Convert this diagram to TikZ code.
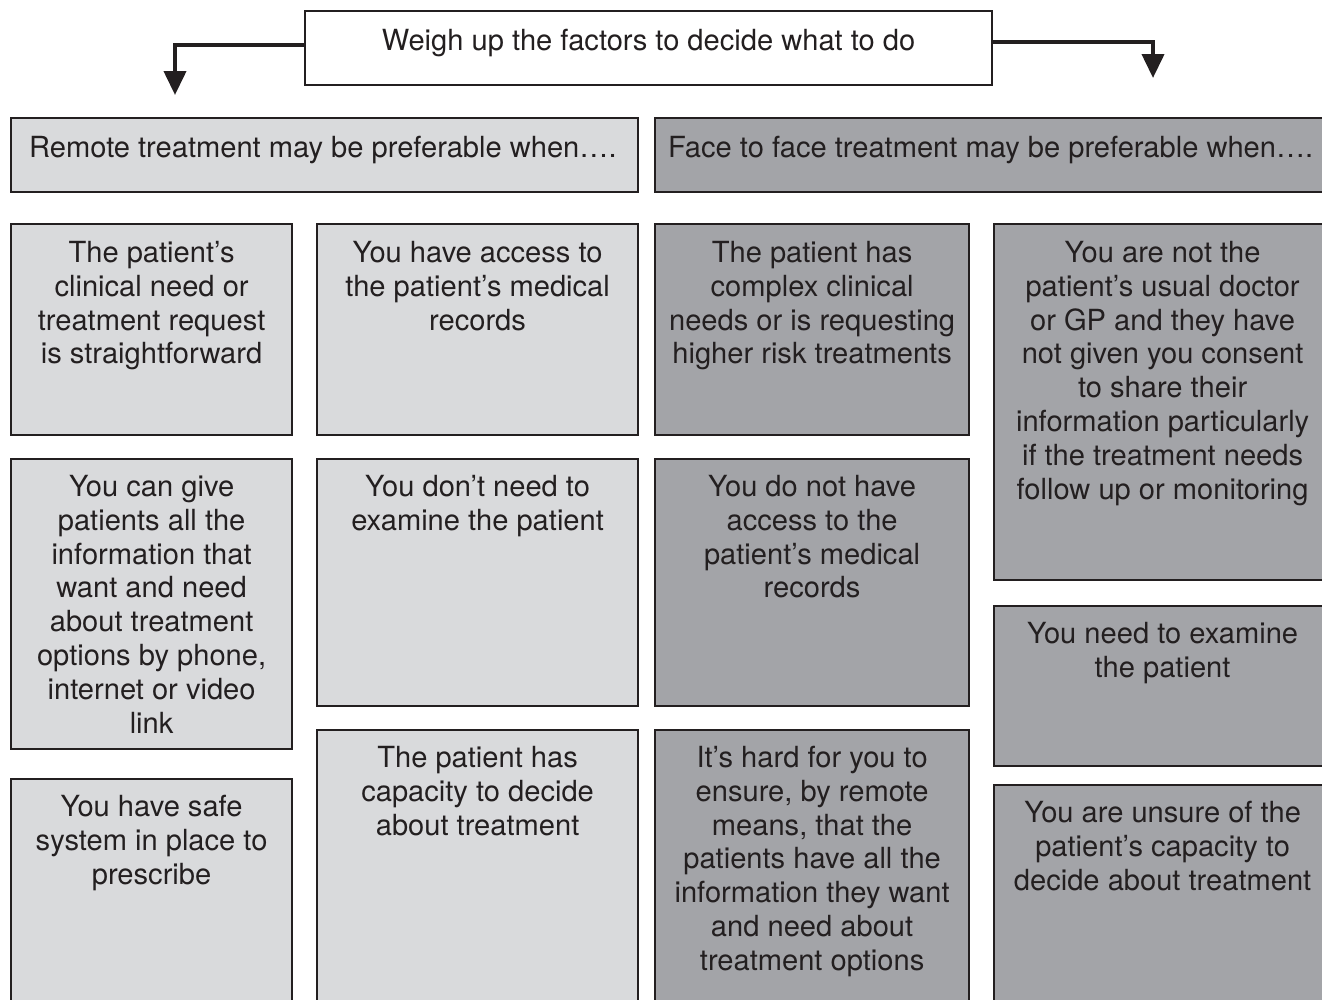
\documentclass[tikz,border=0pt]{standalone}
\usepackage{fontspec}
\setmainfont{TeX Gyre Heros}
\usetikzlibrary{arrows.meta}
\definecolor{lightbox}{HTML}{D9DADC}
\definecolor{darkbox}{HTML}{A3A4A8}
\definecolor{ink}{HTML}{231F20}
\begin{document}
\begin{tikzpicture}[x=1pt,y=-1pt,
  box/.style={draw=ink, line width=2.2pt, anchor=north west, inner sep=0pt, rectangle},
  lbox/.style={box, fill=lightbox},
  dbox/.style={box, fill=darkbox},
  txt/.style={font=\fontsize{29.1}{33.8}\selectfont, text=ink, align=center, inner sep=0pt, anchor=north, execute at begin node=\strut},
  arr/.style={draw=ink, line width=4pt, -{Triangle[width=22pt,length=24pt]}}]
\useasboundingbox (0,0) rectangle (1322,999);
\clip (0,0) rectangle (1322,999);

% top box
\node[box, fill=white, minimum width=687, minimum height=74] (top) at (304,10) {};
\node[txt] (toptxt) at ([yshift=-17]top.north) {Weigh up the factors to decide what to do};
\coordinate (lt) at (175,95);
\coordinate (rt) at (1153,78);
\draw[arr] ([yshift=3]top.west) -| (lt);
\draw[arr] ([yshift=6]top.east) -| (rt);

% headers
\node[lbox, minimum width=627, minimum height=74] (hl) at (10,117) {};
\node[txt, anchor=north west, align=left] (hlt) at ([xshift=19,yshift=-17]hl.north west) {Remote treatment may be preferable when….};
\node[dbox, minimum width=690, minimum height=74] (hr) at (654,117) {};
\node[txt, anchor=north west, align=left] (hrt) at ([xshift=14,yshift=-17]hr.north west) {Face to face treatment may be preferable when….};

% column 1
\node[lbox, minimum width=281, minimum height=211] (a1) at (10,223) {};
\node[txt] (a1t) at ([yshift=-18]a1.north) {The patient’s\\clinical need or\\treatment request\\is straightforward};
\node[lbox, minimum width=281, minimum height=290] (a2) at (10,458) {};
\node[txt] (a2t) at ([yshift=-17]a2.north) {You can give\\patients all the\\information that\\want and need\\about treatment\\options by phone,\\internet or video\\link};
\node[lbox, minimum width=281, minimum height=240] (a3) at (10,778) {};
\node[txt] (a3t) at ([yshift=-17]a3.north) {You have safe\\system in place to\\prescribe};

% column 2
\node[lbox, minimum width=321, minimum height=211] (b1) at (316,223) {};
\node[txt] (b1t) at ([yshift=-18]b1.north) {You have access to\\the patient’s medical\\records};
\node[lbox, minimum width=321, minimum height=247] (b2) at (316,458) {};
\node[txt] (b2t) at ([yshift=-17]b2.north) {You don’t need to\\examine the patient};
\node[lbox, minimum width=321, minimum height=290] (b3) at (316,729) {};
\node[txt] (b3t) at ([yshift=-17]b3.north) {The patient has\\capacity to decide\\about treatment};

% column 3
\node[dbox, minimum width=314, minimum height=211] (c1) at (654,223) {};
\node[txt] (c1t) at ([yshift=-18]c1.north) {The patient has\\complex clinical\\needs or is requesting\\higher risk treatments};
\node[dbox, minimum width=314, minimum height=247] (c2) at (654,458) {};
\node[txt] (c2t) at ([yshift=-17]c2.north) {You do not have\\access to the\\patient’s medical\\records};
\node[dbox, minimum width=314, minimum height=290] (c3) at (654,729) {};
\node[txt] (c3t) at ([yshift=-17]c3.north) {It’s hard for you to\\ensure, by remote\\means, that the\\patients have all the\\information they want\\and need about\\treatment options};

% column 4
\node[dbox, minimum width=337, minimum height=356] (d1) at (993,223) {};
\node[txt] (d1t) at ([yshift=-18]d1.north) {You are not the\\patient’s usual doctor\\or GP and they have\\not given you consent\\to share their\\information particularly\\if the treatment needs\\follow up or monitoring};
\node[dbox, minimum width=337, minimum height=160] (d2) at (993,605) {};
\node[txt] (d2t) at ([yshift=-17]d2.north) {You need to examine\\the patient};
\node[dbox, minimum width=337, minimum height=240] (d3) at (993,784) {};
\node[txt] (d3t) at ([yshift=-17]d3.north) {You are unsure of the\\patient’s capacity to\\decide about treatment};
\end{tikzpicture}
\end{document}
